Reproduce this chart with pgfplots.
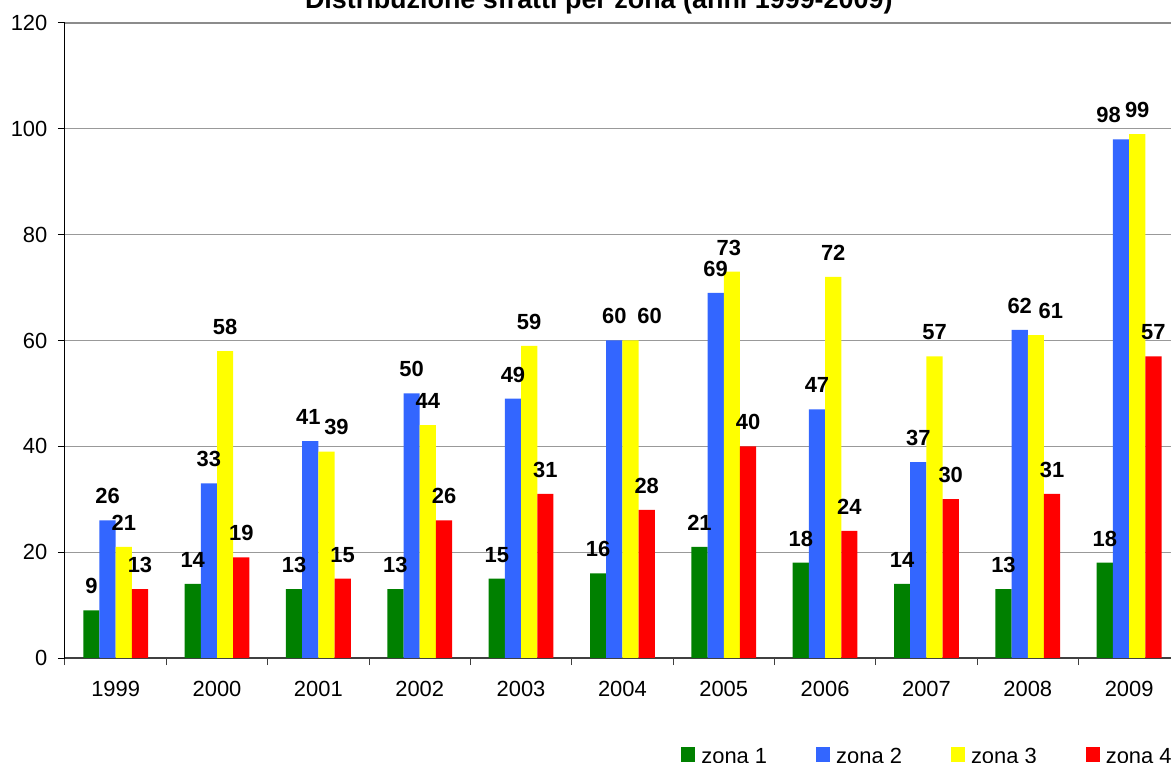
\documentclass[border=0pt]{standalone}
\usepackage{pgfplots}
\usepackage{pgfplotstable}
\pgfplotsset{compat=1.18}
\usepackage{fontspec}
\setmainfont{Liberation Sans}
\definecolor{z1}{HTML}{008000}
\definecolor{z2}{HTML}{3366FF}
\definecolor{z3}{HTML}{FFFF00}
\definecolor{z4}{HTML}{FF0000}
\pgfplotstableread{
x y dx
0 9 0
1 14 0
2 13 0
3 13 0
4 15 0
5 16 0
6 21 0
7 18 0
8 14 0
9 13 0
10 18 0
}\zoneone
\pgfplotstableread{
x y dx
0 26 0
1 33 0
2 41 -1
3 50 0
4 49 0
5 60 0
6 69 0
7 47 0
8 37 0
9 62 0
10 98 -6.25
}\zonetwo
\pgfplotstableread{
x y dx
0 21 0
1 58 0
2 39 5
3 44 0
4 59 0
5 60 9.5
6 73 -1.5
7 72 0
8 57 0
9 61 7.5
10 99 0
}\zonethree
\pgfplotstableread{
x y dx
0 13 0
1 19 0
2 15 0
3 26 0
4 31 0
5 28 0
6 40 0
7 24 0
8 30 0
9 31 0
10 57 0
}\zonefour
\begin{document}
\begin{tikzpicture}
\begin{axis}[
  scale only axis, width=557.4bp, height=317.5bp,
  ybar=0pt, bar width=8.1bp,
  xmin=-0.5, xmax=10.5, ymin=0, ymax=120,
  xtick={0,...,10},
  xticklabels={1999,2000,2001,2002,2003,2004,2005,2006,2007,2008,2009},
  minor xtick={-0.5,0.5,...,10.5},
  ytick={0,20,...,120},
  ymajorgrids, major grid style={draw=black!40, line width=0.5bp},
  axis x line*=bottom, axis y line*=left,
  x axis line style={-, draw=black!75, line width=1bp},
  y axis line style={-, draw=black, line width=0.5bp},
  tick align=outside, major tick length=3.5bp, minor tick length=3.5bp,
  major x tick style={draw=none},
  minor x tick style={draw=black!75, line width=0.5bp},
  major y tick style={draw=black, line width=0.5bp},
  /pgf/number format/assume math mode=true,
  tick label style={font=\fontsize{11}{13}\selectfont},
  xticklabel style={yshift=-4.8bp},
  yticklabel style={xshift=-1.8bp},
  visualization depends on={\thisrow{dx}\as\labeldx},
  nodes near coords,
  every node near coord/.append style={font=\fontsize{11}{13}\selectfont\bfseries, anchor=south, inner sep=0pt, yshift=8bp, xshift=\labeldx bp},
  title={Distribuzione sfratti per zona (anni 1999-2009)},
  title style={at={(axis description cs:0.4788,1)}, anchor=base, yshift=1.5bp, inner sep=0pt, font=\fontsize{13.5}{15}\selectfont\bfseries},
  legend columns=4,
  legend style={at={(axis description cs:0,0)}, anchor=south west, xshift=308bp, yshift=-54.5bp, draw=none, fill=none, inner sep=0pt, font=\fontsize{11}{13}\selectfont, nodes={inner sep=0pt},
    /tikz/every odd column/.append style={column sep=3bp},
    /tikz/every even column/.append style={column sep=24.5bp}},
  legend image code/.code={\fill[#1] (0bp,-2.5bp) rectangle (7bp,5bp);},
]
\addplot[fill=z1, draw=none] table[x=x,y=y] {\zoneone};
\addlegendentry{zona 1}
\addplot[fill=z2, draw=none] table[x=x,y=y] {\zonetwo};
\addlegendentry{zona 2}
\addplot[fill=z3, draw=none] table[x=x,y=y] {\zonethree};
\addlegendentry{zona 3}
\addplot[fill=z4, draw=none] table[x=x,y=y] {\zonefour};
\addlegendentry{zona 4}
\draw[black!45, line width=1bp] (axis description cs:0,1) -- (axis description cs:1,1);
\coordinate (A) at (axis description cs:0,0);
\end{axis}
\pgfresetboundingbox
\useasboundingbox ([xshift=-32.5bp,yshift=-52.5bp]A) rectangle ([xshift=553bp,yshift=329bp]A);
\end{tikzpicture}
\end{document}
